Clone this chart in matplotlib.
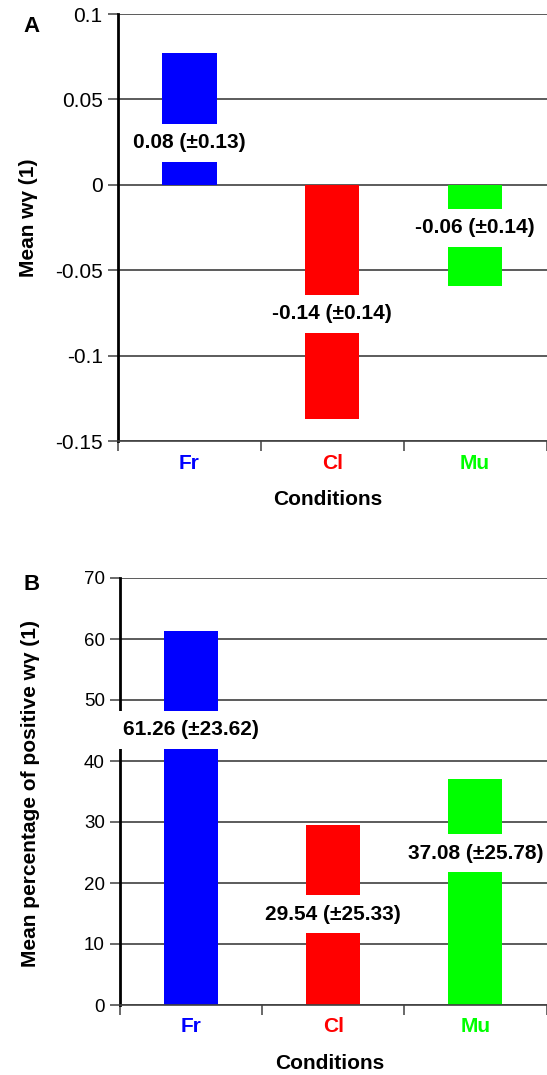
import matplotlib.pyplot as plt
from matplotlib.ticker import FixedLocator

plt.rcParams['font.family'] = ['Liberation Sans', 'DejaVu Sans']

conditions = ["Fr", "Cl", "Mu"]
colors = ["#0000ff", "#ff0000", "#00ff00"]

# panel A: mean w-gamma
mean_a = [0.077, -0.137, -0.059]
sd_a = [0.13, 0.14, 0.14]
# panel B: mean percentage of positive w-gamma
mean_b = [61.26, 29.54, 37.08]
sd_b = [23.62, 25.33, 25.78]

ylim_a = (-0.15, 0.1)
yticks_a = [-0.15, -0.1, -0.05, 0, 0.05, 0.1]
yticklabels_a = ["-0.15", "-0.1", "-0.05", "0", "0.05", "0.1"]
ylim_b = (0, 70)
yticks_b = [0, 10, 20, 30, 40, 50, 60, 70]

W, H = 547, 1075
fig = plt.figure(figsize=(W / 100, H / 100), dpi=100)

grid_col = "#404040"


def panel(rect, means, sds, ylim, yticks, yticklabels, ylabel, label_y, tick_fs,
          ylab_coords, xlab_coords, fmt):
    ax = fig.add_axes(rect)
    x = [i + 0.5 for i in range(len(means))]
    ax.bar(x, means, width=0.38, color=colors, zorder=2)
    ax.set_xlim(0, 3)
    ax.set_ylim(*ylim)
    ax.set_yticks(yticks)
    ax.set_yticklabels(yticklabels, fontsize=tick_fs)
    ax.yaxis.grid(True, color=grid_col, linewidth=1.2)
    ax.set_axisbelow(True)

    ax.xaxis.set_major_locator(FixedLocator([0, 1, 2, 3]))
    ax.xaxis.set_minor_locator(FixedLocator(x))
    ax.set_xticklabels([])
    ax.set_xticklabels(conditions, minor=True, fontsize=15, fontweight="bold")
    for lab, c in zip(ax.get_xticklabels(minor=True), colors):
        lab.set_color(c)
    ax.tick_params(axis="x", which="major", direction="out", length=7,
                   width=1.1, color=grid_col)
    ax.tick_params(axis="x", which="minor", length=0, pad=9)
    ax.tick_params(axis="y", direction="out", length=7, width=1.1,
                   color=grid_col, pad=4)

    for s in ["top", "right"]:
        ax.spines[s].set_visible(False)
    ax.spines["left"].set_linewidth(2.0)
    ax.spines["left"].set_color("black")
    ax.spines["bottom"].set_color(grid_col)
    ax.spines["bottom"].set_linewidth(1.2)

    ax.set_ylabel(ylabel, fontsize=15, fontweight="bold")
    ax.yaxis.set_label_coords(*ylab_coords)
    ax.yaxis.label.set_va("center")
    ax.set_xlabel("Conditions", fontsize=15, fontweight="bold")
    ax.xaxis.set_label_coords(*xlab_coords)
    ax.xaxis.label.set_va("center")

    for xi, m, s, ly in zip(x, means, sds, label_y):
        ax.text(xi, ly, fmt.format(m, s), ha="center", va="center",
                fontsize=15, fontweight="bold", zorder=10, clip_on=False,
                bbox=dict(boxstyle="square,pad=0.45", fc="white", ec="none"))
    return ax


panel([118 / W, 1 - 441 / H, 428.5 / W, 427 / H], mean_a, sd_a, ylim_a,
      yticks_a, yticklabels_a, "Mean w\u03b3 (1)", [0.0246, -0.0755, -0.0252],
      15, (-0.21, 0.522), (0.49, -0.138), "{:.2f} (\u00b1{:.2f})")

panel([120 / W, 1 - 1005 / H, 426.5 / W, 427 / H], mean_b, sd_b, ylim_b,
      yticks_b, [str(v) for v in yticks_b],
      "Mean percentage of positive w\u03b3 (1)", [45.1, 14.9, 24.9],
      13.5, (-0.211, 0.496), (0.492, -0.136), "{:.2f} (\u00b1{:.2f})")

fig.text(32 / W, 1 - 26 / H, "A", fontsize=16, fontweight="bold",
         ha="center", va="center")
fig.text(32 / W, 1 - 585 / H, "B", fontsize=16, fontweight="bold",
         ha="center", va="center")

fig.savefig("out.png", dpi=100)
